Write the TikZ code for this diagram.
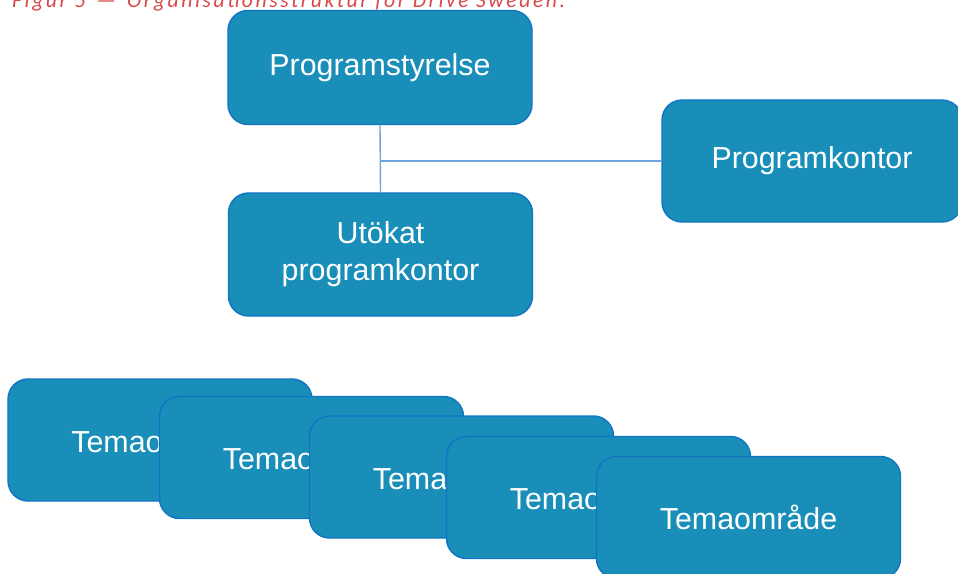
\documentclass[tikz,border=0pt]{standalone}
\usepackage{fontspec}
\setmainfont{Liberation Sans}
\newfontfamily\capfont[LetterSpace=12]{Carlito}
\usepackage{graphicx}
\definecolor{boxfill}{RGB}{24,142,184}
\definecolor{boxline}{RGB}{18,116,196}
\definecolor{connline}{RGB}{110,165,220}
\definecolor{capred}{RGB}{218,72,72}
\begin{document}
\begin{tikzpicture}[x=1bp,y=-1bp,
  orgbox/.style={draw=boxline, line width=1.4bp, fill=boxfill, rounded corners=20bp,
    minimum width=304bp, minimum height=122bp, inner sep=0pt, text=white,
    align=center, font=\fontsize{30.5}{37}\selectfont},
  conn/.style={draw=connline, line width=1.4bp}]
\useasboundingbox (0,0) rectangle (958,574);
\clip (0,0) rectangle (958,574);
% caption (cut off at the top)
\node[anchor=base west, inner sep=0pt, text=capred] (cap) at (12,7.5)
  {\resizebox{553bp}{!}{\capfont\itshape Figur 5 \,—\, Organisationsstruktur för Drive Sweden.}};
% nodes
\node[orgbox, minimum height=114bp] (prog) at (380,67.5) {Programstyrelse};
\node[orgbox, minimum height=123bp] (utok) at (380.5,254.5) {Utökat\\programkontor};
\node[orgbox, minimum width=300bp] (pk) at (812,161) {Programkontor};
\coordinate (junc) at (prog.south |- pk.west);
% connectors
\draw[conn] (prog.south) -- (utok.north);
\draw[conn] (junc) -- (pk.west);
% theme areas
\node[orgbox] (t1) at (160,440) {Temaområde};
\node[orgbox] (t2) at (311.5,457.5) {Temaområde};
\node[orgbox] (t3) at (461.5,477) {Temaområde};
\node[orgbox] (t4) at (598.5,497.5) {Temaområde};
\node[orgbox] (t5) at (748.5,517.5) {Temaområde};
\end{tikzpicture}
\end{document}
